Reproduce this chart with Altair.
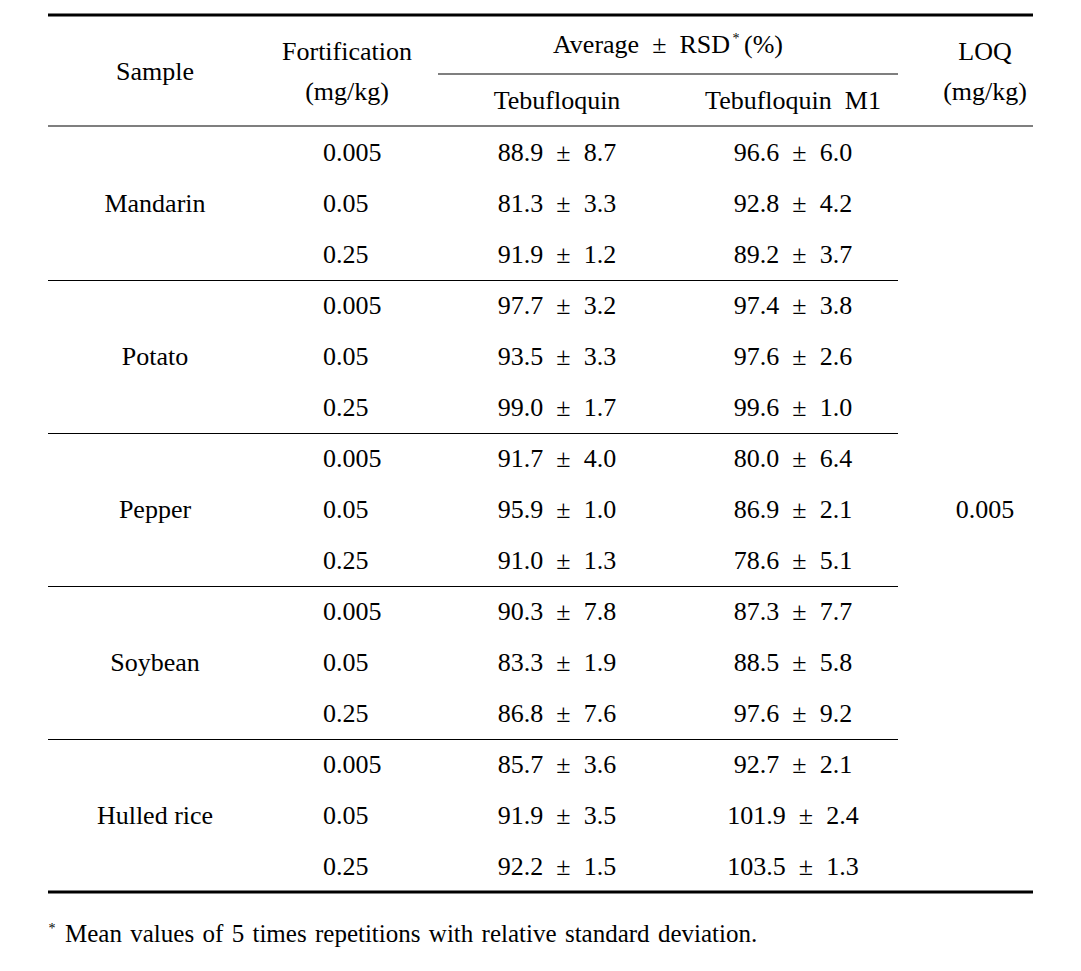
import altair as alt
import pandas as pd

# ---- table content ----
samples = ["Mandarin", "Potato", "Pepper", "Soybean", "Hulled rice"]
fortifications = ["0.005", "0.05", "0.25"]
teb_avg = [88.9, 81.3, 91.9, 97.7, 93.5, 99.0, 91.7, 95.9, 91.0, 90.3, 83.3, 86.8, 85.7, 91.9, 92.2]
teb_rsd = [8.7, 3.3, 1.2, 3.2, 3.3, 1.7, 4.0, 1.0, 1.3, 7.8, 1.9, 7.6, 3.6, 3.5, 1.5]
m1_avg = [96.6, 92.8, 89.2, 97.4, 97.6, 99.6, 80.0, 86.9, 78.6, 87.3, 88.5, 97.6, 92.7, 101.9, 103.5]
m1_rsd = [6.0, 4.2, 3.7, 3.8, 2.6, 1.0, 6.4, 2.1, 5.1, 7.7, 5.8, 9.2, 2.1, 2.4, 1.3]
loq_value = "0.005"
footnote = "Mean values of 5 times repetitions with relative standard deviation."

# ---- layout (page pixel units) ----
W, H = 1065, 955
X_SAMPLE, X_FORT_L, X_FORT_C, X_TEB, X_M1, X_LOQ = 155, 323, 347, 557, 793, 985
ROW0, ROW_H = 153, 51
SP = "\u2002"
FONT = "Liberation Serif"
FS = 26

n_rows = len(teb_avg)
row_y = [ROW0 + ROW_H * i for i in range(n_rows)]

center_rows = []
left_rows = []
# header
center_rows += [
    dict(x=X_SAMPLE, y=72, t="Sample"),
    dict(x=X_FORT_C, y=52, t="Fortification"),
    dict(x=X_FORT_C, y=92, t="(mg/kg)"),
    dict(x=X_TEB, y=101, t="Tebufloquin"),
    dict(x=X_M1, y=101, t="Tebufloquin" + SP + "M1"),
    dict(x=X_LOQ, y=52, t="LOQ"),
    dict(x=X_LOQ, y=92, t="(mg/kg)"),
]
right_rows = [dict(x=730, y=45, t="Average" + SP + "\u00b1" + SP + "RSD")]
left_rows += [dict(x=744, y=45, t="(%)")]
star_rows = [dict(x=736, y=39, t="*"), dict(x=52, y=929, t="*")]

for i in range(n_rows):
    g, k = divmod(i, 3)
    left_rows.append(dict(x=X_FORT_L, y=row_y[i], t=fortifications[k]))
    center_rows.append(dict(x=X_TEB, y=row_y[i], t=f"{teb_avg[i]:.1f}{SP}\u00b1{SP}{teb_rsd[i]:.1f}"))
    center_rows.append(dict(x=X_M1, y=row_y[i], t=f"{m1_avg[i]:.1f}{SP}\u00b1{SP}{m1_rsd[i]:.1f}"))
    if k == 1:
        center_rows.append(dict(x=X_SAMPLE, y=row_y[i], t=samples[g]))
center_rows.append(dict(x=X_LOQ, y=row_y[n_rows // 2], t=loq_value))
foot_rows = [dict(x=65, y=934, t=footnote.replace(" ", "\u00a0\u200a"))]

# rules
rules = [
    dict(x=48, x2=1033, y=15, sw=3),
    dict(x=438, x2=898, y=74, sw=1.2),
    dict(x=48, x2=1033, y=126, sw=1.2),
    dict(x=48, x2=1033, y=892, sw=3),
]
for g in range(1, len(samples)):
    yy = (row_y[3 * g - 1] + row_y[3 * g]) / 2
    rules.append(dict(x=48, x2=898, y=yy, sw=1.2))

xs = alt.Scale(domain=[8, 8 + W], nice=False, zero=False)
ys = alt.Scale(domain=[8, 8 + H], nice=False, zero=False, reverse=True)


def text_layer(rows, align, size=FS):
    return alt.Chart(pd.DataFrame(rows)).mark_text(
        font=FONT, fontSize=size, color="black", align=align, baseline="middle"
    ).encode(
        x=alt.X("x:Q", scale=xs, axis=None),
        y=alt.Y("y:Q", scale=ys, axis=None),
        text="t:N",
    )


rule_layer = alt.Chart(pd.DataFrame(rules)).mark_rule(color="black").encode(
    x=alt.X("x:Q", scale=xs, axis=None),
    x2="x2:Q",
    y=alt.Y("y:Q", scale=ys, axis=None),
    strokeWidth=alt.StrokeWidth("sw:Q", scale=None, legend=None),
)

chart = alt.layer(
    rule_layer,
    text_layer(center_rows, "center"),
    text_layer(left_rows, "left"),
    text_layer(right_rows, "right"),
    text_layer(foot_rows, "left", 25),
    text_layer(star_rows, "center", 14),
).properties(
    width=W, height=H, autosize="none", padding=0, background="white"
).configure_view(stroke=None)

chart.save("out.html", embed_options={"renderer": "svg", "actions": False})
